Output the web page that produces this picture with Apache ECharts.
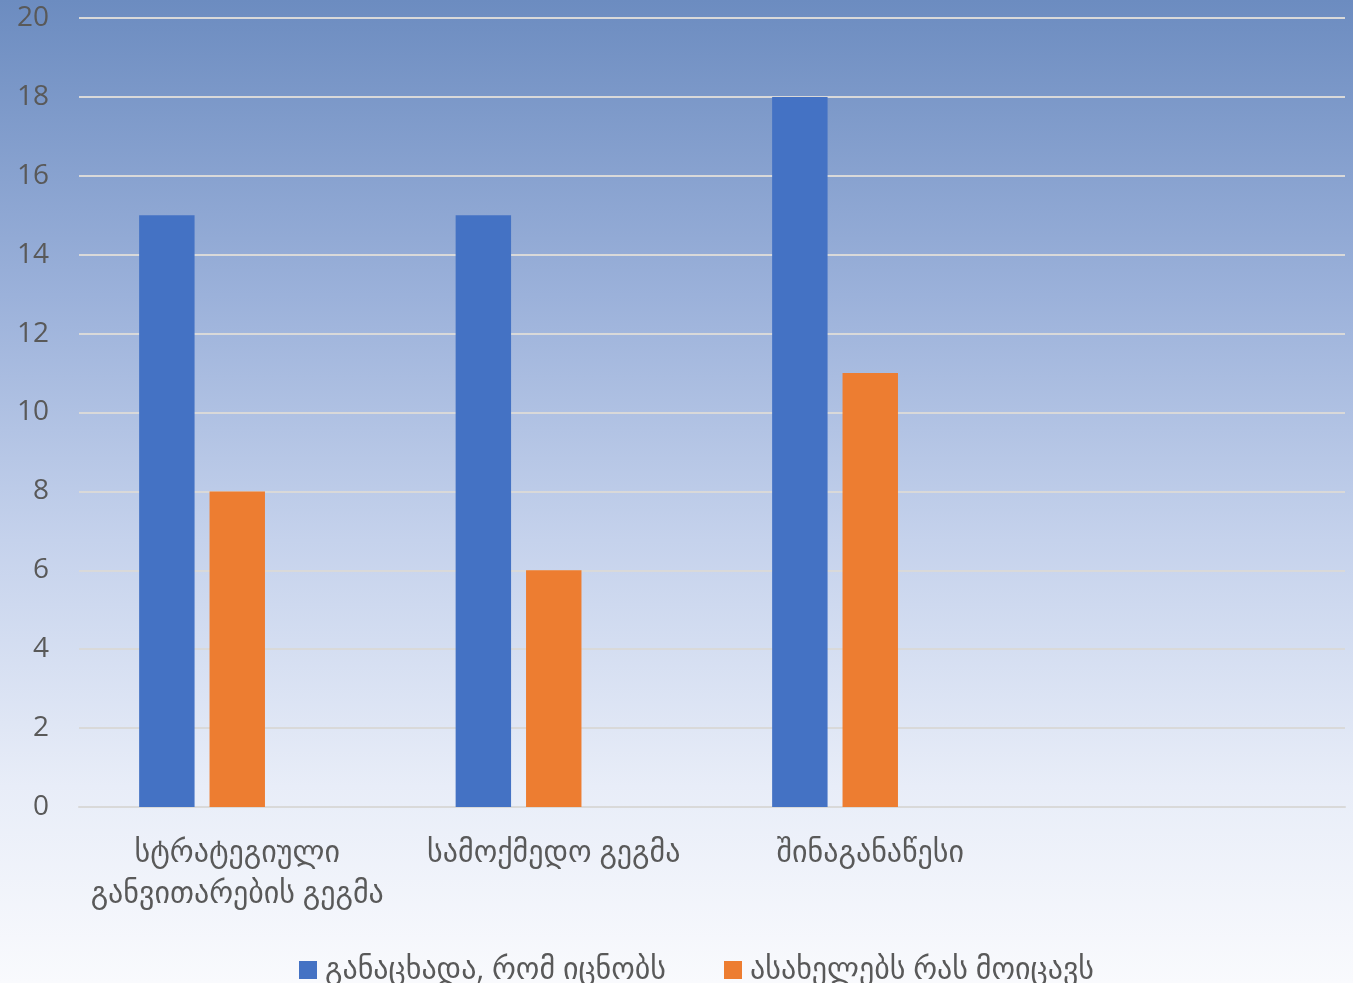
<!DOCTYPE html>
<html>
<head>
<meta charset="utf-8">
<script src="https://cdn.jsdelivr.net/npm/echarts@6/dist/echarts.min.js"></script>
<style>
html,body{margin:0;padding:0;}
#chart{width:1353px;height:983px;}
</style>
</head>
<body>
<div id="chart"></div>
<script>
var categories = ['სტრატეგიული\nგანვითარების გეგმა', 'სამოქმედო გეგმა', 'შინაგანაწესი', ''];
var seriesNames = ['განაცხადა, რომ იცნობს', 'ასახელებს რას მოიცავს'];
var knowsValues = [15, 15, 18, null];
var namesValues = [8, 6, 11, null];
var emptyValues = [null, null, null, null];
var yTicks = {min: 0, max: 20, interval: 2};

var FONT = '"Open Sans", "DejaVu Sans", sans-serif';
var chart = echarts.init(document.getElementById('chart'));
chart.setOption({
  backgroundColor: new echarts.graphic.LinearGradient(0, 0, 0, 1, [
    {offset: 0, color: '#6c8cc0'},
    {offset: 0.3, color: '#9bb1da'},
    {offset: 0.55, color: '#c5d2ec'},
    {offset: 0.8, color: '#e8edf8'},
    {offset: 1, color: '#f9fafd'}
  ]),
  animation: false,
  grid: {left: 79, right: 8, top: 18, bottom: 176, containLabel: false},
  legend: {
    data: seriesNames,
    top: 950,
    left: 294,
    itemWidth: 18,
    itemHeight: 18,
    itemGap: 58,
    icon: 'rect',
    textStyle: {color: '#595959', fontSize: 30, fontFamily: FONT, padding: [0, 0, 0, 3]}
  },
  xAxis: {
    type: 'category',
    data: categories,
    axisLine: {show: true, lineStyle: {color: '#d9d9d9', width: 2}},
    axisTick: {show: false},
    axisLabel: {color: '#595959', fontSize: 30, fontFamily: FONT, margin: 26, lineHeight: 41, interval: 0}
  },
  yAxis: {
    type: 'value',
    min: yTicks.min,
    max: yTicks.max,
    interval: yTicks.interval,
    axisLine: {show: false},
    axisTick: {show: false},
    axisLabel: {color: '#595959', fontSize: 28, fontFamily: FONT, margin: 30},
    splitLine: {lineStyle: {color: '#d9d9d9', width: 2}}
  },
  series: [
    {name: seriesNames[0], type: 'bar', data: knowsValues, itemStyle: {color: '#4472c4'}, barGap: '27%', barCategoryGap: '38%'},
    {name: seriesNames[1], type: 'bar', data: namesValues, itemStyle: {color: '#ed7d31'}},
    {name: 'empty', type: 'bar', data: emptyValues, itemStyle: {color: 'transparent'}}
  ]
});
</script>
</body>
</html>
